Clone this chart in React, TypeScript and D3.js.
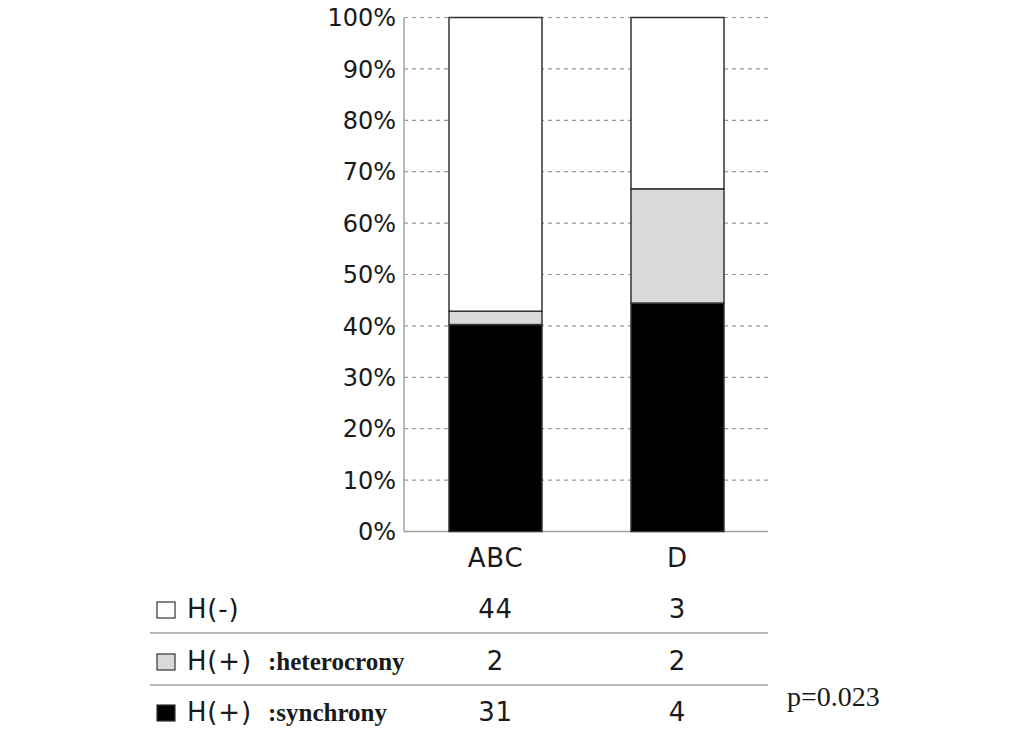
import React from "react";
import * as d3 from "d3";

const categories = ["ABC", "D"];
const seriesNames = ["H(+) :synchrony", "H(+) :heterocrony", "H(-)"];
const synchrony = [31, 4];
const heterocrony = [2, 2];
const hNeg = [44, 3];
const yTicks = [0, 10, 20, 30, 40, 50, 60, 70, 80, 90, 100];
const pValue = "p=0.023";

const fills = ["#000000", "#d9d9db", "#ffffff"];

export default function App() {
  const W = 1033, H = 733;
  const x0 = 404, x1 = 768;
  const y = d3.scaleLinear().domain([0, 100]).range([531.5, 17.5]);
  const bw = 93;
  const centers = [495.5, 677.5];
  const xPos = d3.scaleOrdinal<string, number>().domain(categories).range(centers);

  const rows = categories.map((c, i) => {
    const total = synchrony[i] + heterocrony[i] + hNeg[i];
    return { c, vals: [synchrony[i], heterocrony[i], hNeg[i]].map(v => (v / total) * 100) };
  });
  const stack = rows.map(r => {
    let acc = 0;
    return r.vals.map((v, k) => { const s = { k, y0: acc, y1: acc + v }; acc += v; return s; });
  });

  const sans = "'DejaVu Sans', sans-serif";
  const serif = "'Liberation Serif', 'Times New Roman', serif";
  const tableRows = [
    { label: "H(-)", sub: "", vals: hNeg, fill: fills[2], yb: 618 },
    { label: "H(+)", sub: ":heterocrony", vals: heterocrony, fill: fills[1], yb: 670 },
    { label: "H(+)", sub: ":synchrony", vals: synchrony, fill: fills[0], yb: 721 },
  ];

  return (
    <svg width={W} height={H} style={{ position: "absolute", left: 0, top: 0, background: "#fff" }}>
      {yTicks.map(t => (
        <g key={t}>
          {t > 0 && <line x1={x0} x2={x1} y1={y(t)} y2={y(t)} stroke="#9a9a9a" strokeWidth={1.2} strokeDasharray="4,4" />}
          <text x={396} y={y(t)} dy="0.36em" textAnchor="end" fontFamily={sans} fontSize={24} fill="#1a1a1a">{t}%</text>
        </g>
      ))}
      <line x1={x0} x2={x0} y1={y(100)} y2={y(0)} stroke="#a0a0a0" strokeWidth={1.5} />
      <line x1={x0} x2={x1} y1={y(0)} y2={y(0)} stroke="#a0a0a0" strokeWidth={1.5} />
      {categories.map((c, i) => (
        <g key={c}>
          {stack[i].map(s => (
            <rect key={s.k} x={xPos(c) - bw / 2} width={bw} y={y(s.y1)} height={y(s.y0) - y(s.y1)}
              fill={fills[s.k]} stroke="#333" strokeWidth={1.5} />
          ))}
          <text x={xPos(c)} y={567} textAnchor="middle" fontFamily={sans} fontSize={26} letterSpacing={0.8} fill="#1a1a1a">{c}</text>
        </g>
      ))}
      {tableRows.map((r, j) => (
        <g key={j}>
          <rect x={157} y={r.yb - 16} width={18} height={16} fill={r.fill} stroke="#333" strokeWidth={1.2} />
          <text x={187} y={r.yb} fontFamily={sans} fontSize={26} letterSpacing={0.8} fill="#1a1a1a">{r.label}</text>
          {r.sub && <text x={268} y={r.yb} fontFamily={serif} fontWeight="bold" fontSize={25} fill="#1a1a1a">{r.sub}</text>}
          {categories.map((c, i) => (
            <text key={c} x={xPos(c)} y={r.yb} textAnchor="middle" fontFamily={sans} fontSize={26} letterSpacing={0.8} fill="#1a1a1a">{r.vals[i]}</text>
          ))}
        </g>
      ))}
      <line x1={150} x2={768} y1={633} y2={633} stroke="#a0a0a0" strokeWidth={1.5} />
      <line x1={150} x2={768} y1={685} y2={685} stroke="#a0a0a0" strokeWidth={1.5} />
      <text x={787} y={706} fontFamily={serif} fontSize={28} fill="#1a1a1a">{pValue}</text>
    </svg>
  );
}
